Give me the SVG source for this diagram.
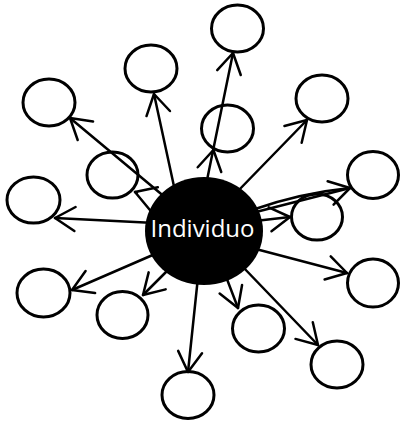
<svg xmlns="http://www.w3.org/2000/svg" width="401" height="421" viewBox="0 0 401 421">
<defs>
<style>
.leaf{fill:none;stroke:#000;stroke-width:3}
.edge{fill:none;stroke:#000;stroke-width:2.5;stroke-linecap:round;marker-end:url(#arr)}
.plain{fill:none;stroke:#000;stroke-width:2.5;stroke-linecap:round}
.label{font-family:"Open Sans","Liberation Sans",sans-serif;font-size:24px;fill:#fff;text-anchor:middle}
</style>
<marker id="arr" markerUnits="userSpaceOnUse" markerWidth="30" markerHeight="30" viewBox="-24 -15 28 30" refX="0" refY="0" orient="auto">
<path d="M-20,-12 L0,0 L-20,12" fill="none" stroke="#000" stroke-width="2.5" stroke-linecap="round" stroke-linejoin="round"/>
</marker>
</defs>
<g id="n1"><ellipse class="leaf" cx="49" cy="102.5" rx="26" ry="23.5"/></g>
<g id="n2"><ellipse class="leaf" cx="151" cy="68.5" rx="26" ry="23.5"/></g>
<g id="n3"><ellipse class="leaf" cx="237.5" cy="28.5" rx="26" ry="23.5"/></g>
<g id="n4"><ellipse class="leaf" cx="227.5" cy="128.5" rx="26" ry="23.5"/></g>
<g id="n5"><ellipse class="leaf" cx="322" cy="98.5" rx="26" ry="23.5"/></g>
<g id="n6"><ellipse class="leaf" cx="373" cy="175" rx="25.5" ry="23.5"/></g>
<g id="n7"><ellipse class="leaf" cx="317" cy="217" rx="25.5" ry="23"/></g>
<g id="n8"><ellipse class="leaf" cx="373" cy="283" rx="25.5" ry="24"/></g>
<g id="n9"><ellipse class="leaf" cx="337" cy="364.5" rx="26" ry="23.5"/></g>
<g id="n10"><ellipse class="leaf" cx="258.5" cy="328.5" rx="26" ry="23.5"/></g>
<g id="n11"><ellipse class="leaf" cx="188" cy="395" rx="26" ry="23.5"/></g>
<g id="n12"><ellipse class="leaf" cx="122.5" cy="315" rx="25.5" ry="23.5"/></g>
<g id="n13"><ellipse class="leaf" cx="43.5" cy="293" rx="26.5" ry="24"/></g>
<g id="n14"><ellipse class="leaf" cx="33.5" cy="200" rx="26.5" ry="23"/></g>
<g id="n15"><ellipse class="leaf" cx="112.5" cy="175" rx="25.5" ry="23"/></g>
<g id="connectors">
<line class="edge" x1="166" y1="198" x2="70" y2="118"/>
<line class="edge" x1="175" y1="191" x2="154" y2="94"/>
<line class="edge" x1="206" y1="185" x2="233" y2="53"/>
<line class="edge" x1="212.8" y1="153" x2="213.4" y2="150"/>
<line class="edge" x1="236" y1="193" x2="307" y2="120"/>
<line class="edge" x1="252" y1="213" x2="350" y2="188"/>
<path class="plain" d="M252,210 Q300,193 350,188"/>
<line class="edge" x1="255" y1="221" x2="290" y2="217"/>
<line class="edge" x1="252" y1="248" x2="347" y2="273"/>
<line class="edge" x1="242" y1="266" x2="318" y2="345"/>
<line class="edge" x1="225" y1="274" x2="238" y2="308"/>
<line class="edge" x1="198" y1="277" x2="188" y2="372"/>
<line class="edge" x1="171" y1="267" x2="143" y2="295"/>
<line class="edge" x1="155" y1="254" x2="72" y2="290"/>
<line class="edge" x1="155" y1="223" x2="55" y2="218"/>
<line class="edge" x1="137" y1="192.7" x2="135" y2="192"/>
</g>
<g id="individuo">
<ellipse cx="204" cy="231" rx="59" ry="54" fill="#000"/>
<text class="label" x="202.5" y="237">Individuo</text>
</g>
</svg>
